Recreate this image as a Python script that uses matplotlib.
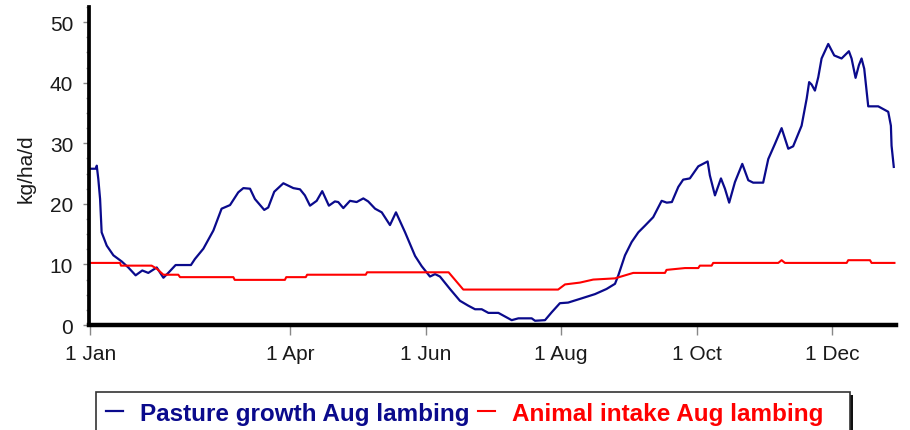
import matplotlib
matplotlib.use("Agg")
import matplotlib.pyplot as plt
from matplotlib.ticker import MultipleLocator
from matplotlib.patches import Rectangle

plt.rcParams['font.family'] = ['Liberation Sans', 'DejaVu Sans']

# ---- data (day of year, kg/ha/d) ----
tick_days = [0, 90, 151, 212, 273, 334]
tick_labels = ["1 Jan", "1 Apr", "1 Jun", "1 Aug", "1 Oct", "1 Dec"]

pasture_day = [0, 2.6, 2.9, 3.6, 4.4, 5.1, 7.4, 10.4, 14.1, 17.1, 20.4, 23.4, 26.1, 29.9,
               32.9, 35.1, 38.4, 45.3, 47.1, 50.9, 55.4, 59.1, 62.9, 66.6, 68.9, 71.9,
               74.1, 78.3, 80.1, 82.8, 86.9, 91.4, 94.4, 96.6, 98.9, 101.9, 104.4, 107.4,
               110.1, 111.6, 113.9, 116.9, 119.9, 122.9, 125.1, 128.2, 131.2, 134.9,
               137.6, 141.7, 146.2, 149.2, 152.9, 155.2, 157.4, 161.9, 166.4, 170.1,
               173.2, 176.2, 179.2, 183.7, 189.7, 192.7, 198.7, 200.2, 204.7, 207.7,
               211.4, 215.1, 221.2, 227.2, 232.4, 236.2, 237.7, 240.7, 243.7, 246.7,
               249.7, 253.4, 257.2, 259.5, 261.8, 264.7, 266.9, 269.9, 273.7, 277.9,
               278.9, 281.2, 283.9, 285.7, 287.6, 290.2, 293.5, 296.2, 298.4, 302.9,
               305.2, 308.2, 311.2, 314.2, 316.4, 320.2, 322.5, 323.6, 324.7, 326.2,
               327.7, 329.2, 332.2, 334.9, 338.2, 341.5, 342.7, 344.5, 346.0, 347.2,
               348.4, 350.2, 354.7, 359.2, 360.4, 360.7, 361.7]
pasture_val = [25.8, 25.8, 26.3, 24.1, 20.8, 15.3, 13.1, 11.5, 10.5, 9.5, 8.2, 9.0, 8.6, 9.5,
               7.8, 8.6, 9.9, 9.9, 10.9, 12.6, 15.6, 19.2, 19.8, 21.9, 22.6, 22.5,
               20.8, 19.0, 19.4, 22.0, 23.4, 22.6, 22.4, 21.4, 19.7, 20.5, 22.1, 19.7,
               20.4, 20.3, 19.3, 20.5, 20.3, 20.9, 20.4, 19.2, 18.6, 16.5,
               18.6, 15.3, 11.4, 9.7, 8.0, 8.4, 8.0, 5.95, 4.0, 3.2,
               2.6, 2.6, 2.0, 2.0, 0.8, 1.1, 1.1, 0.7, 0.8, 2.1,
               3.6, 3.7, 4.4, 5.1, 5.95, 6.8, 8.2, 11.5, 13.7, 15.3,
               16.4, 17.8, 20.5, 20.2, 20.3, 22.8, 24.0, 24.2, 26.2, 27.0,
               24.7, 21.4, 24.2, 22.5, 20.2, 23.6, 26.6, 23.9, 23.5, 23.5,
               27.4, 29.9, 32.5, 29.1, 29.5, 32.9, 37.4, 40.1, 39.7, 38.7,
               40.9, 44.0, 46.4, 44.5, 44.0, 45.2, 44.0, 40.8, 42.9, 44.0,
               42.3, 36.1, 36.1, 35.2, 32.9, 29.6, 26.1]

intake_day = [0, 13.4, 13.8, 27.6, 29.9, 32.9, 39.6, 40.4, 64.4, 65.0, 87.6, 88.2, 97.0,
              97.6, 124.0, 124.6, 161.3, 167.9, 210.6, 213.7, 220.4, 226.4, 236.2, 244.4,
              258.7, 259.4, 267.7, 273.7, 274.4, 279.7, 280.4, 309.7, 311.2, 312.7,
              340.5, 341.2, 351.0, 351.7, 362.0]
intake_val = [10.25, 10.25, 9.8, 9.8, 9.3, 8.3, 8.3, 7.9, 7.9, 7.45, 7.45, 7.9, 7.9,
              8.3, 8.3, 8.7, 8.7, 5.85, 5.85, 6.7, 7.0, 7.5, 7.7, 8.6,
              8.6, 9.1, 9.4, 9.4, 9.8, 9.8, 10.25, 10.25, 10.7, 10.25,
              10.25, 10.7, 10.7, 10.25, 10.25]

series_labels = ["Pasture growth Aug lambing", "Animal intake Aug lambing"]
blue = "#0a0a8c"
red = "#ff0000"

W, H = 910, 431
fig = plt.figure(figsize=(W / 100, H / 100), dpi=100)
ax_left, ax_right, ax_bottom_px, ax_top_px = 89.2, 896, 326, 8
ax = fig.add_axes([ax_left / W, 1 - ax_bottom_px / H,
                   (ax_right - ax_left) / W, (ax_bottom_px - ax_top_px) / H])

ax.plot(pasture_day, pasture_val, color=blue, lw=1.6, label=series_labels[0])
ax.plot(intake_day, intake_val, color=red, lw=1.5, label=series_labels[1])

ax.set_xlim(-0.5, 362.7)
ax.set_ylim(0, 52.5)
ax.set_xticks(tick_days)
ax.set_xticklabels(tick_labels)
ax.yaxis.set_minor_locator(MultipleLocator(2.5))
ax.set_yticks([0, 10, 20, 30, 40, 50])

for s in ("top", "right"):
    ax.spines[s].set_visible(False)
ax.spines["left"].set_linewidth(2.7)
ax.spines["bottom"].set_linewidth(3.2)
ax.spines["left"].set_color("black")
ax.spines["bottom"].set_color("black")

ax.tick_params(axis="x", direction="out", length=7, width=1, color="#888888",
               labelsize=15, pad=6.5, labelcolor="#1a1a1a")
ax.tick_params(axis="y", which="major", direction="out", length=4.5, width=1,
               color="#888888", labelsize=15, pad=7, labelcolor="#1a1a1a")
ax.tick_params(axis="y", which="minor", direction="out", length=2, width=1,
               color="#999999")

ax.set_ylabel("kg/ha/d", fontsize=15, color="#1a1a1a")
ax.yaxis.set_label_coords(-0.066, 0.494)

# legend box (drawn as a figure-level frame, extending past the bottom edge)
box_l, box_r, box_t, box_b = 96, 850, 393, 445
shadow = Rectangle((box_l + 2.5, 1 - (box_b + 2.5) / H * H / H), 0, 0)
fig.patches.append(Rectangle(((box_l + 2.5) / W, 1 - (box_b + 2.5) / H),
                             (box_r - box_l) / W, (box_b - box_t) / H,
                             transform=fig.transFigure, facecolor="#111111",
                             edgecolor="none", zorder=1))
fig.patches.append(Rectangle((box_l / W, 1 - box_b / H),
                             (box_r - box_l) / W, (box_b - box_t) / H,
                             transform=fig.transFigure, facecolor="white",
                             edgecolor="#333333", linewidth=1.2, zorder=2))

leg = fig.legend(loc="upper left", bbox_to_anchor=(96 / W, 1 - 393 / H),
                 borderaxespad=0, ncol=2, frameon=False,
                 prop={"family": "Liberation Sans", "weight": "bold", "size": 17.5},
                 labelcolor="linecolor", handlelength=0.7, handletextpad=0.7,
                 columnspacing=0.35, borderpad=0.4)
leg.set_zorder(5)

fig.savefig("out.png", dpi=100)
